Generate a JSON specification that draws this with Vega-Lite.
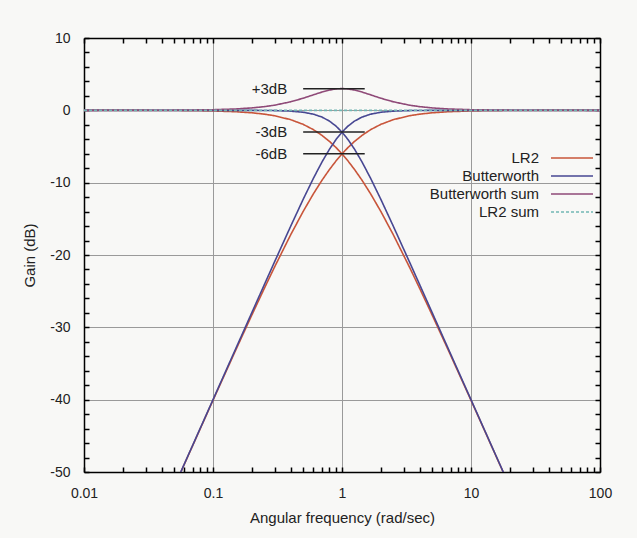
{
  "$schema": "https://vega.github.io/schema/vega-lite/v6.json",
  "width": 516,
  "height": 434,
  "autosize": {"type": "none"},
  "padding": {"left": 84, "top": 38, "right": 37, "bottom": 66},
  "background": "#f8f8f6",
  "config": {
    "view": {"stroke": null},
    "axis": {
      "domainColor": "#000000",
      "domainWidth": 1.5,
      "tickColor": "#000000",
      "tickWidth": 1.5,
      "labelFont": "Liberation Sans",
      "labelFontSize": 14,
      "labelColor": "#222222",
      "titleFont": "Liberation Sans",
      "titleFontSize": 15,
      "titleFontWeight": "normal",
      "titleColor": "#222222",
      "labelFlush": false,
      "gridColor": "#9a9a9a",
      "gridWidth": 1
    },
    "legend": {
      "orient": "none",
      "legendX": 480,
      "legendY": 112,
      "title": null,
      "symbolType": "M-3,0H3",
      "symbolSize": 196,
      "symbolStrokeWidth": 1.6,
      "labelAlign": "right",
      "labelBaseline": "middle",
      "labelOffset": -41,
      "labelFont": "Liberation Sans",
      "labelFontSize": 15,
      "labelColor": "#222222",
      "rowPadding": 2
    }
  },
  "datasets": {
    "curves": [
      {"w": 0.01, "g": 0, "s": "LR2", "p": "lo"},
      {"w": 0.02, "g": -0.003, "s": "LR2", "p": "lo"},
      {"w": 0.05, "g": -0.022, "s": "LR2", "p": "lo"},
      {"w": 0.1, "g": -0.086, "s": "LR2", "p": "lo"},
      {"w": 0.15, "g": -0.193, "s": "LR2", "p": "lo"},
      {"w": 0.2, "g": -0.341, "s": "LR2", "p": "lo"},
      {"w": 0.25, "g": -0.527, "s": "LR2", "p": "lo"},
      {"w": 0.3, "g": -0.749, "s": "LR2", "p": "lo"},
      {"w": 0.4, "g": -1.289, "s": "LR2", "p": "lo"},
      {"w": 0.5, "g": -1.938, "s": "LR2", "p": "lo"},
      {"w": 0.6, "g": -2.671, "s": "LR2", "p": "lo"},
      {"w": 0.7, "g": -3.464, "s": "LR2", "p": "lo"},
      {"w": 0.8, "g": -4.297, "s": "LR2", "p": "lo"},
      {"w": 0.9, "g": -5.154, "s": "LR2", "p": "lo"},
      {"w": 1, "g": -6.021, "s": "LR2", "p": "lo"},
      {"w": 1.111, "g": -6.984, "s": "LR2", "p": "lo"},
      {"w": 1.25, "g": -8.173, "s": "LR2", "p": "lo"},
      {"w": 1.429, "g": -9.66, "s": "LR2", "p": "lo"},
      {"w": 1.667, "g": -11.545, "s": "LR2", "p": "lo"},
      {"w": 2, "g": -13.979, "s": "LR2", "p": "lo"},
      {"w": 2.5, "g": -17.207, "s": "LR2", "p": "lo"},
      {"w": 3.333, "g": -21.664, "s": "LR2", "p": "lo"},
      {"w": 4, "g": -24.609, "s": "LR2", "p": "lo"},
      {"w": 5, "g": -28.3, "s": "LR2", "p": "lo"},
      {"w": 6.667, "g": -33.15, "s": "LR2", "p": "lo"},
      {"w": 10, "g": -40.086, "s": "LR2", "p": "lo"},
      {"w": 20, "g": -52.063, "s": "LR2", "p": "lo"},
      {"w": 50, "g": -67.96, "s": "LR2", "p": "lo"},
      {"w": 100, "g": -80, "s": "LR2", "p": "lo"},

      {"w": 0.01, "g": -80, "s": "LR2", "p": "hi"},
      {"w": 0.02, "g": -67.96, "s": "LR2", "p": "hi"},
      {"w": 0.05, "g": -52.063, "s": "LR2", "p": "hi"},
      {"w": 0.1, "g": -40.086, "s": "LR2", "p": "hi"},
      {"w": 0.15, "g": -33.15, "s": "LR2", "p": "hi"},
      {"w": 0.2, "g": -28.3, "s": "LR2", "p": "hi"},
      {"w": 0.25, "g": -24.609, "s": "LR2", "p": "hi"},
      {"w": 0.3, "g": -21.664, "s": "LR2", "p": "hi"},
      {"w": 0.4, "g": -17.207, "s": "LR2", "p": "hi"},
      {"w": 0.5, "g": -13.979, "s": "LR2", "p": "hi"},
      {"w": 0.6, "g": -11.545, "s": "LR2", "p": "hi"},
      {"w": 0.7, "g": -9.66, "s": "LR2", "p": "hi"},
      {"w": 0.8, "g": -8.173, "s": "LR2", "p": "hi"},
      {"w": 0.9, "g": -6.984, "s": "LR2", "p": "hi"},
      {"w": 1, "g": -6.021, "s": "LR2", "p": "hi"},
      {"w": 1.111, "g": -5.154, "s": "LR2", "p": "hi"},
      {"w": 1.25, "g": -4.297, "s": "LR2", "p": "hi"},
      {"w": 1.429, "g": -3.464, "s": "LR2", "p": "hi"},
      {"w": 1.667, "g": -2.671, "s": "LR2", "p": "hi"},
      {"w": 2, "g": -1.938, "s": "LR2", "p": "hi"},
      {"w": 2.5, "g": -1.289, "s": "LR2", "p": "hi"},
      {"w": 3.333, "g": -0.749, "s": "LR2", "p": "hi"},
      {"w": 4, "g": -0.527, "s": "LR2", "p": "hi"},
      {"w": 5, "g": -0.341, "s": "LR2", "p": "hi"},
      {"w": 6.667, "g": -0.193, "s": "LR2", "p": "hi"},
      {"w": 10, "g": -0.086, "s": "LR2", "p": "hi"},
      {"w": 20, "g": -0.022, "s": "LR2", "p": "hi"},
      {"w": 50, "g": -0.003, "s": "LR2", "p": "hi"},
      {"w": 100, "g": 0, "s": "LR2", "p": "hi"},

      {"w": 0.01, "g": 0, "s": "Butterworth", "p": "lo"},
      {"w": 0.02, "g": 0, "s": "Butterworth", "p": "lo"},
      {"w": 0.05, "g": 0, "s": "Butterworth", "p": "lo"},
      {"w": 0.1, "g": 0, "s": "Butterworth", "p": "lo"},
      {"w": 0.15, "g": -0.002, "s": "Butterworth", "p": "lo"},
      {"w": 0.2, "g": -0.007, "s": "Butterworth", "p": "lo"},
      {"w": 0.25, "g": -0.017, "s": "Butterworth", "p": "lo"},
      {"w": 0.3, "g": -0.035, "s": "Butterworth", "p": "lo"},
      {"w": 0.4, "g": -0.11, "s": "Butterworth", "p": "lo"},
      {"w": 0.5, "g": -0.263, "s": "Butterworth", "p": "lo"},
      {"w": 0.6, "g": -0.529, "s": "Butterworth", "p": "lo"},
      {"w": 0.7, "g": -0.935, "s": "Butterworth", "p": "lo"},
      {"w": 0.8, "g": -1.491, "s": "Butterworth", "p": "lo"},
      {"w": 0.9, "g": -2.191, "s": "Butterworth", "p": "lo"},
      {"w": 1, "g": -3.01, "s": "Butterworth", "p": "lo"},
      {"w": 1.111, "g": -4.021, "s": "Butterworth", "p": "lo"},
      {"w": 1.25, "g": -5.367, "s": "Butterworth", "p": "lo"},
      {"w": 1.429, "g": -7.131, "s": "Butterworth", "p": "lo"},
      {"w": 1.667, "g": -9.403, "s": "Butterworth", "p": "lo"},
      {"w": 2, "g": -12.304, "s": "Butterworth", "p": "lo"},
      {"w": 2.5, "g": -16.027, "s": "Butterworth", "p": "lo"},
      {"w": 3.333, "g": -20.95, "s": "Butterworth", "p": "lo"},
      {"w": 4, "g": -24.099, "s": "Butterworth", "p": "lo"},
      {"w": 5, "g": -27.966, "s": "Butterworth", "p": "lo"},
      {"w": 6.667, "g": -32.958, "s": "Butterworth", "p": "lo"},
      {"w": 10, "g": -40, "s": "Butterworth", "p": "lo"},
      {"w": 20, "g": -52.041, "s": "Butterworth", "p": "lo"},
      {"w": 50, "g": -67.96, "s": "Butterworth", "p": "lo"},
      {"w": 100, "g": -80, "s": "Butterworth", "p": "lo"},

      {"w": 0.01, "g": -80, "s": "Butterworth", "p": "hi"},
      {"w": 0.02, "g": -67.96, "s": "Butterworth", "p": "hi"},
      {"w": 0.05, "g": -52.041, "s": "Butterworth", "p": "hi"},
      {"w": 0.1, "g": -40, "s": "Butterworth", "p": "hi"},
      {"w": 0.15, "g": -32.958, "s": "Butterworth", "p": "hi"},
      {"w": 0.2, "g": -27.966, "s": "Butterworth", "p": "hi"},
      {"w": 0.25, "g": -24.099, "s": "Butterworth", "p": "hi"},
      {"w": 0.3, "g": -20.95, "s": "Butterworth", "p": "hi"},
      {"w": 0.4, "g": -16.027, "s": "Butterworth", "p": "hi"},
      {"w": 0.5, "g": -12.304, "s": "Butterworth", "p": "hi"},
      {"w": 0.6, "g": -9.403, "s": "Butterworth", "p": "hi"},
      {"w": 0.7, "g": -7.131, "s": "Butterworth", "p": "hi"},
      {"w": 0.8, "g": -5.367, "s": "Butterworth", "p": "hi"},
      {"w": 0.9, "g": -4.021, "s": "Butterworth", "p": "hi"},
      {"w": 1, "g": -3.01, "s": "Butterworth", "p": "hi"},
      {"w": 1.111, "g": -2.191, "s": "Butterworth", "p": "hi"},
      {"w": 1.25, "g": -1.491, "s": "Butterworth", "p": "hi"},
      {"w": 1.429, "g": -0.935, "s": "Butterworth", "p": "hi"},
      {"w": 1.667, "g": -0.529, "s": "Butterworth", "p": "hi"},
      {"w": 2, "g": -0.263, "s": "Butterworth", "p": "hi"},
      {"w": 2.5, "g": -0.11, "s": "Butterworth", "p": "hi"},
      {"w": 3.333, "g": -0.035, "s": "Butterworth", "p": "hi"},
      {"w": 4, "g": -0.017, "s": "Butterworth", "p": "hi"},
      {"w": 5, "g": -0.007, "s": "Butterworth", "p": "hi"},
      {"w": 6.667, "g": -0.002, "s": "Butterworth", "p": "hi"},
      {"w": 10, "g": 0, "s": "Butterworth", "p": "hi"},
      {"w": 20, "g": 0, "s": "Butterworth", "p": "hi"},
      {"w": 50, "g": 0, "s": "Butterworth", "p": "hi"},
      {"w": 100, "g": 0, "s": "Butterworth", "p": "hi"},

      {"w": 0.01, "g": 0, "s": "Butterworth sum", "p": "sum"},
      {"w": 0.02, "g": 0.003, "s": "Butterworth sum", "p": "sum"},
      {"w": 0.05, "g": 0.022, "s": "Butterworth sum", "p": "sum"},
      {"w": 0.1, "g": 0.086, "s": "Butterworth sum", "p": "sum"},
      {"w": 0.15, "g": 0.191, "s": "Butterworth sum", "p": "sum"},
      {"w": 0.2, "g": 0.334, "s": "Butterworth sum", "p": "sum"},
      {"w": 0.25, "g": 0.51, "s": "Butterworth sum", "p": "sum"},
      {"w": 0.3, "g": 0.714, "s": "Butterworth sum", "p": "sum"},
      {"w": 0.4, "g": 1.179, "s": "Butterworth sum", "p": "sum"},
      {"w": 0.5, "g": 1.675, "s": "Butterworth sum", "p": "sum"},
      {"w": 0.6, "g": 2.142, "s": "Butterworth sum", "p": "sum"},
      {"w": 0.7, "g": 2.529, "s": "Butterworth sum", "p": "sum"},
      {"w": 0.8, "g": 2.806, "s": "Butterworth sum", "p": "sum"},
      {"w": 0.9, "g": 2.963, "s": "Butterworth sum", "p": "sum"},
      {"w": 1, "g": 3.01, "s": "Butterworth sum", "p": "sum"},
      {"w": 1.111, "g": 2.963, "s": "Butterworth sum", "p": "sum"},
      {"w": 1.25, "g": 2.806, "s": "Butterworth sum", "p": "sum"},
      {"w": 1.429, "g": 2.529, "s": "Butterworth sum", "p": "sum"},
      {"w": 1.667, "g": 2.142, "s": "Butterworth sum", "p": "sum"},
      {"w": 2, "g": 1.675, "s": "Butterworth sum", "p": "sum"},
      {"w": 2.5, "g": 1.179, "s": "Butterworth sum", "p": "sum"},
      {"w": 3.333, "g": 0.714, "s": "Butterworth sum", "p": "sum"},
      {"w": 4, "g": 0.51, "s": "Butterworth sum", "p": "sum"},
      {"w": 5, "g": 0.334, "s": "Butterworth sum", "p": "sum"},
      {"w": 6.667, "g": 0.191, "s": "Butterworth sum", "p": "sum"},
      {"w": 10, "g": 0.086, "s": "Butterworth sum", "p": "sum"},
      {"w": 20, "g": 0.022, "s": "Butterworth sum", "p": "sum"},
      {"w": 50, "g": 0.003, "s": "Butterworth sum", "p": "sum"},
      {"w": 100, "g": 0, "s": "Butterworth sum", "p": "sum"},

      {"w": 0.01, "g": 0, "s": "LR2 sum", "p": "sum"},
      {"w": 100, "g": 0, "s": "LR2 sum", "p": "sum"}
    ],
    "notes": [
      {"label": "+3dB", "y": 3, "x1": 0.5, "x2": 1.5},
      {"label": "-3dB", "y": -3, "x1": 0.5, "x2": 1.5},
      {"label": "-6dB", "y": -6, "x1": 0.5, "x2": 1.5}
    ]
  },
  "layer": [
    {
      "data": {"name": "curves"},
      "mark": {"type": "line", "clip": true, "strokeWidth": 1.6},
      "encoding": {
        "x": {
          "field": "w",
          "type": "quantitative",
          "scale": {"type": "log", "domain": [0.01, 100], "nice": false},
          "axis": {
            "orient": "bottom",
            "values": [0.01, 0.02, 0.03, 0.04, 0.05, 0.06, 0.07, 0.08, 0.09, 0.1, 0.2, 0.3, 0.4, 0.5, 0.6, 0.7, 0.8, 0.9, 1, 2, 3, 4, 5, 6, 7, 8, 9, 10, 20, 30, 40, 50, 60, 70, 80, 90, 100],
            "labelExpr": "datum.value == 0.01 ? '0.01' : datum.value == 0.1 ? '0.1' : datum.value == 1 ? '1' : datum.value == 10 ? '10' : datum.value == 100 ? '100' : ''",
            "tickSize": -5,
            "labelPadding": 19,
            "labelBaseline": "top",
            "grid": true,
            "gridOpacity": {"condition": {"test": "datum.value == 0.1 || datum.value == 1 || datum.value == 10", "value": 1}, "value": 0},
            "title": "Angular frequency (rad/sec)",
            "titlePadding": 10
          }
        },
        "y": {
          "field": "g",
          "type": "quantitative",
          "scale": {"domain": [-50, 10], "nice": false, "zero": false},
          "axis": {
            "orient": "left",
            "values": [-50, -48, -46, -44, -42, -40, -38, -36, -34, -32, -30, -28, -26, -24, -22, -20, -18, -16, -14, -12, -10, -8, -6, -4, -2, 0, 2, 4, 6, 8, 10],
            "labelExpr": "datum.value % 10 == 0 ? '' + datum.value : ''",
            "tickSize": -5,
            "labelPadding": 19,
            "grid": true,
            "gridOpacity": {"condition": {"test": "datum.value % 10 == 0 && datum.value > -50 && datum.value < 10", "value": 1}, "value": 0},
            "title": "Gain (dB)",
            "titlePadding": 12
          }
        },
        "color": {
          "field": "s",
          "type": "nominal",
          "scale": {
            "domain": ["LR2", "Butterworth", "Butterworth sum", "LR2 sum"],
            "range": ["#c8553a", "#474792", "#8f4a78", "#72b6b4"]
          },
          "legend": {"title": null}
        },
        "strokeDash": {
          "field": "s",
          "type": "nominal",
          "scale": {
            "domain": ["LR2", "Butterworth", "Butterworth sum", "LR2 sum"],
            "range": [[1, 0], [1, 0], [1, 0], [3, 2]]
          },
          "legend": {"title": null}
        },
        "detail": {"field": "p", "type": "nominal"}
      }
    },
    {
      "data": {"name": "notes"},
      "mark": {"type": "rule", "color": "#222222", "strokeWidth": 1.5},
      "encoding": {
        "x": {
          "field": "x1",
          "type": "quantitative",
          "scale": {"type": "log", "domain": [0.01, 100], "nice": false},
          "axis": {
            "orient": "top",
            "values": [0.01, 0.02, 0.03, 0.04, 0.05, 0.06, 0.07, 0.08, 0.09, 0.1, 0.2, 0.3, 0.4, 0.5, 0.6, 0.7, 0.8, 0.9, 1, 2, 3, 4, 5, 6, 7, 8, 9, 10, 20, 30, 40, 50, 60, 70, 80, 90, 100],
            "labels": false,
            "tickSize": -5,
            "grid": false,
            "title": null
          }
        },
        "x2": {"field": "x2"},
        "y": {
          "field": "y",
          "type": "quantitative",
          "scale": {"domain": [-50, 10], "nice": false, "zero": false},
          "axis": {
            "orient": "right",
            "values": [-50, -48, -46, -44, -42, -40, -38, -36, -34, -32, -30, -28, -26, -24, -22, -20, -18, -16, -14, -12, -10, -8, -6, -4, -2, 0, 2, 4, 6, 8, 10],
            "labels": false,
            "tickSize": -5,
            "grid": false,
            "title": null
          }
        }
      }
    },
    {
      "data": {"name": "notes"},
      "mark": {"type": "text", "align": "right", "baseline": "middle", "dx": -16, "font": "Liberation Sans", "fontSize": 15, "color": "#222222"},
      "encoding": {
        "x": {"field": "x1", "type": "quantitative", "axis": null},
        "y": {"field": "y", "type": "quantitative", "axis": null},
        "text": {"field": "label"}
      }
    }
  ],
  "resolve": {"axis": {"x": "independent", "y": "independent"}}
}
